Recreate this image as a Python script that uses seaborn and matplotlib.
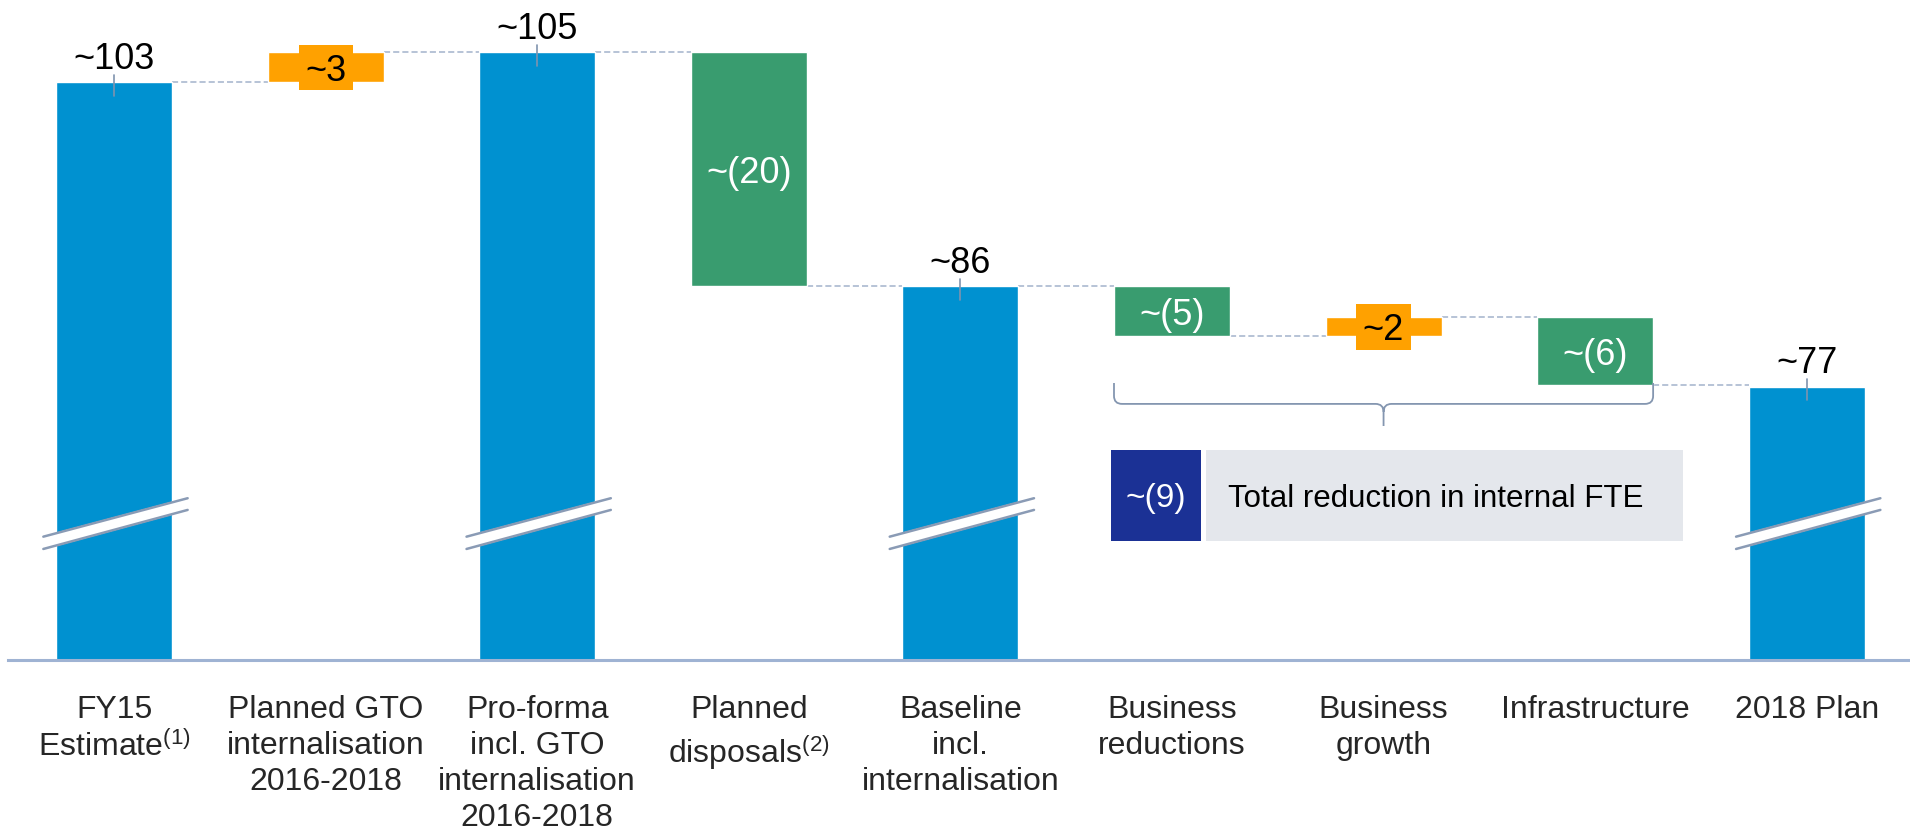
import numpy as np
import pandas as pd
import matplotlib
matplotlib.use("Agg")
import matplotlib.pyplot as plt
import seaborn as sns
from matplotlib.path import Path
from matplotlib.patches import PathPatch, Rectangle

# ---------------- data ----------------
categories = ["FY15\nEstimate$^{(1)}$",
              "Planned GTO\ninternalisation\n2016-2018",
              "Pro-forma\nincl. GTO\ninternalisation\n2016-2018",
              "Planned\ndisposals$^{(2)}$",
              "Baseline\nincl.\ninternalisation",
              "Business\nreductions",
              "Business\ngrowth",
              "Infrastructure",
              "2018 Plan"]
kinds = ["total", "delta", "total", "delta", "total", "delta", "delta", "delta", "total"]
values = [102.5, 2.5, 105.0, -19.6, 85.4, -4.2, 1.6, -5.7, 77.0]
value_labels = ["~103", "~3", "~105", "~(20)", "~86", "~(5)", "~2", "~(6)", "~77"]
total_value_label = "~(9)"
total_text = "Total reduction in internal FTE"

# ---------------- style ----------------
sns.set_style("white")
plt.rcParams['font.family'] = ['Liberation Sans', 'DejaVu Sans']
plt.rcParams['mathtext.fontset'] = 'custom'
plt.rcParams['mathtext.rm'] = 'Liberation Sans'
plt.rcParams['mathtext.it'] = 'Liberation Sans'
plt.rcParams['mathtext.default'] = 'regular'

BLUE = "#0091D0"
GREEN = "#399C6F"
ORANGE = "#FFA100"
NAVY = "#1B3195"
GREYBOX = "#E4E7EC"
LINEC = "#A3B3CB"
BRACE = "#8496B0"

fig = plt.figure(figsize=(19.1, 8.39), dpi=100)
ax = fig.add_axes([8/1910, 179/839, 1902/1910, 660/839])

YMIN, YMAX = 54.1, 109.38
BW = 0.548

# totals with seaborn
tot = pd.DataFrame({"cat": [c for c, k in zip(categories, kinds) if k == "total"],
                    "val": [v for v, k in zip(values, kinds) if k == "total"]})
sns.barplot(data=tot, x="cat", y="val", order=categories, color=BLUE,
            saturation=1, width=BW, ax=ax, zorder=2)

# compute waterfall levels
level = 0.0
ends = []
for i, (k, v) in enumerate(zip(kinds, values)):
    if k == "total":
        level = v
    else:
        start = level
        level = level + v
        ax.bar(i, v, bottom=start, width=BW,
               color=ORANGE if v > 0 else GREEN, zorder=2)
    ends.append(level)

# connectors
for i in range(len(values) - 1):
    ax.plot([i + BW/2, i + 1 - BW/2], [ends[i], ends[i]], color=LINEC,
            lw=1.1, ls=(0, (4, 2)), zorder=1)

# labels
for i, (k, v, lab) in enumerate(zip(kinds, values, value_labels)):
    if k == "total":
        ax.text(i, v + 1.1, lab, ha="center", va="baseline", fontsize=26, color="black")
        ax.plot([i, i], [v + 0.6, v - 1.15], color="#7F93AE", lw=1.2, zorder=3)
    else:
        mid = ends[i] - v/2
        if v > 0:
            ax.add_patch(Rectangle((i - 0.128, mid - 1.9), 0.256, 3.8,
                                   facecolor=ORANGE, edgecolor="none", zorder=3))
            ax.text(i, mid, lab, ha="center", va="center_baseline", fontsize=26,
                    color="black", zorder=4)
        else:
            ax.text(i, mid, lab, ha="center", va="center_baseline", fontsize=26,
                    color="white", zorder=4)

# axis breaks on total bars
for i, k in enumerate(kinds):
    if k == "total":
        xl, xr = i - 0.334, i + 0.348
        up = ([xl, xr], [64.43, 67.65])
        lo = ([xl, xr], [63.40, 66.67])
        ax.fill([xl, xr, xr, xl], [64.43, 67.65, 66.67, 63.40], color="white", zorder=4)
        ax.plot(*up, color="#8A9BB5", lw=1.8, zorder=5)
        ax.plot(*lo, color="#8A9BB5", lw=1.8, zorder=5)

# brace under the three operational deltas
x0, x1, xm = 5 - BW/2, 7 + BW/2, 6.0
yt, yl, ytip = 77.3, 75.55, 73.7
rx, ry = 0.038, 0.67
verts = [(x0, yt), (x0, yl + ry), (x0, yl), (x0 + rx, yl), (xm - rx, yl), (xm, yl), (xm, yl - ry),
         (xm, ytip),
         (x1, yt), (x1, yl + ry), (x1, yl), (x1 - rx, yl), (xm + rx, yl), (xm, yl), (xm, yl - ry)]
codes = [Path.MOVETO, Path.LINETO, Path.CURVE3, Path.CURVE3, Path.LINETO, Path.CURVE3, Path.CURVE3,
         Path.LINETO,
         Path.MOVETO, Path.LINETO, Path.CURVE3, Path.CURVE3, Path.LINETO, Path.CURVE3, Path.CURVE3]
ax.add_patch(PathPatch(Path(verts, codes), facecolor="none", edgecolor=BRACE, lw=1.3, zorder=3))

# total reduction box
ax.add_patch(Rectangle((4.712, 64.07), 0.425, 7.62, facecolor=NAVY, edgecolor="none", zorder=3))
ax.add_patch(Rectangle((5.161, 64.07), 2.254, 7.62, facecolor=GREYBOX, edgecolor="none", zorder=3))
ax.text(4.925, 67.88, total_value_label, ha="center", va="center_baseline", fontsize=24,
        color="white", zorder=4)
ax.text(5.265, 67.88, total_text, ha="left", va="center_baseline", fontsize=22.5,
        color="black", zorder=4)

# axes
ax.set_xlim(-0.501, 8.488)
ax.set_ylim(YMIN, YMAX)
ax.set_xticks(range(len(categories)))
ax.set_xticklabels(categories, fontsize=23, linespacing=1.27)
ax.tick_params(axis="x", length=0, pad=25)
ax.set_yticks([])
ax.set_xlabel("")
ax.set_ylabel("")
for s in ["top", "left", "right"]:
    ax.spines[s].set_visible(False)
ax.spines["bottom"].set_color("#9FB3D3")
ax.spines["bottom"].set_linewidth(2.2)
ax.patch.set_alpha(0)

fig.savefig("out.png", dpi=100)
